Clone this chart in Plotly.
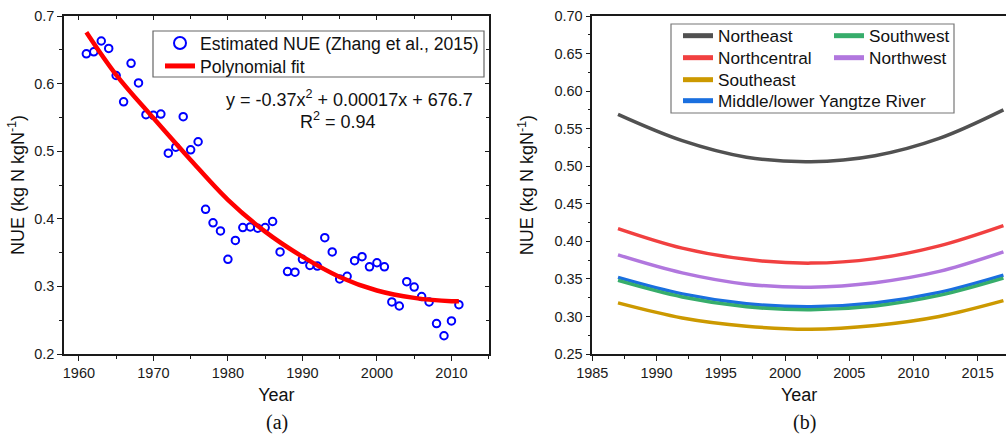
import plotly.graph_objects as go

# ---------------- data: panel (a) ----------------
years_a = list(range(1961, 2012))
nue_est = [0.644, 0.647, 0.663, 0.652, 0.612, 0.573, 0.630, 0.601, 0.554, 0.553,
           0.555, 0.497, 0.506, 0.551, 0.502, 0.514, 0.414, 0.394, 0.382, 0.340,
           0.368, 0.387, 0.388, 0.386, 0.387, 0.396, 0.351, 0.322, 0.321, 0.340,
           0.331, 0.330, 0.372, 0.351, 0.311, 0.315, 0.338, 0.344, 0.329, 0.335,
           0.329, 0.277, 0.271, 0.307, 0.299, 0.285, 0.277, 0.245, 0.227, 0.249,
           0.273]
fit_years = [1961, 1965, 1970, 1975, 1980, 1985, 1990, 1995, 2000, 2005, 2010, 2011]
fit_vals = [0.676, 0.613, 0.549, 0.487, 0.428, 0.381, 0.344, 0.314, 0.294, 0.283, 0.278, 0.278]

# ---------------- data: panel (b) ----------------
years_b = [1987, 1992, 1997, 2002, 2007, 2012, 2017]
regions = ["Northeast", "Northcentral", "Southeast", "Middle/lower Yangtze River",
           "Southwest", "Northwest"]
northeast = [0.569, 0.534, 0.512, 0.506, 0.514, 0.537, 0.575]
northcentral = [0.417, 0.391, 0.376, 0.371, 0.377, 0.394, 0.421]
southeast = [0.318, 0.298, 0.287, 0.283, 0.288, 0.300, 0.321]
yangtze = [0.352, 0.330, 0.317, 0.313, 0.318, 0.332, 0.355]
southwest = [0.348, 0.326, 0.313, 0.309, 0.314, 0.328, 0.351]
northwest = [0.382, 0.358, 0.343, 0.339, 0.345, 0.360, 0.386]
region_values = [northeast, northcentral, southeast, yangtze, southwest, northwest]

# ---------------- styling ----------------
region_colors = ["#515151", "#F14040", "#CC9900", "#1A6FDF", "#37AD6B", "#B177DE"]
region_legends = ["legend3", "legend4", "legend5", "legend6", "legend7", "legend8"]
# legend item placement in page pixels (left x of legend, top y)
region_legend_pos = [(678, 18), (678, 40), (678, 62), (678, 83), (829, 18), (829, 40)]

FONT = "Liberation Sans, Arial, sans-serif"
SERIF = "Liberation Serif, Times New Roman, serif"
W, H = 1006, 436
ML, MR, MT, MB = 64, 0, 16, 82
PW, PH = W - ML - MR, H - MT - MB


def px(x):
    return (x - ML) / PW


def py(y):
    return (H - MB - y) / PH


fig = go.Figure()

fig.add_trace(go.Scatter(
    x=years_a, y=nue_est, mode="markers", name="Estimated NUE (Zhang et al., 2015)",
    marker=dict(symbol="circle-open", size=7.5, color="#0000FF", line=dict(width=2, color="#0000FF")),
    xaxis="x", yaxis="y", legend="legend"))
fig.add_trace(go.Scatter(
    x=fit_years, y=fit_vals, mode="lines", name="Polynomial fit",
    line=dict(color="#FF0000", width=4.5, shape="spline"),
    xaxis="x", yaxis="y", legend="legend2"))
# invisible companion so the mirrored (inside-tick) frame axes of panel (a) are drawn
fig.add_trace(go.Scatter(
    x=years_a, y=nue_est, mode="markers", marker=dict(opacity=0), showlegend=False,
    hoverinfo="skip", xaxis="x3", yaxis="y3"))

for name, vals, col, lg in zip(regions, region_values, region_colors, region_legends):
    fig.add_trace(go.Scatter(
        x=years_b, y=vals, mode="lines", name=name,
        line=dict(color=col, width=3.5, shape="spline"),
        xaxis="x2", yaxis="y2", legend=lg))

axis_common = dict(showgrid=False, zeroline=False, showline=True, linecolor="#1a1a1a",
                   linewidth=1.5, ticks="outside", tickcolor="#1a1a1a", tickwidth=1.2,
                   ticklen=5, tickfont=dict(size=14.5, family=FONT, color="#1a1a1a"),
                   automargin=False)

legend_base = dict(xanchor="left", yanchor="top", bgcolor="rgba(0,0,0,0)", borderwidth=0,
                   tracegroupgap=0, itemsizing="constant")

layout_legends = dict(
    legend=dict(legend_base, x=px(160), y=py(25), font=dict(size=17.6, family=FONT, color="#111111")),
    legend2=dict(legend_base, x=px(160), y=py(48), font=dict(size=17.6, family=FONT, color="#111111")),
)
for lg, (lx, ly) in zip(region_legends, region_legend_pos):
    layout_legends[lg] = dict(legend_base, x=px(lx), y=py(ly),
                              font=dict(size=17.2, family=FONT, color="#111111"))

fig.update_layout(
    width=W, height=H,
    margin=dict(l=ML, r=MR, t=MT, b=MB),
    paper_bgcolor="white", plot_bgcolor="white",
    font=dict(family=FONT, color="#111111"),
    showlegend=True,
    xaxis=dict(axis_common, domain=[0, px(488.7)], range=[1958, 2015], dtick=10, tick0=1960,
               mirror=True, anchor="y",
               minor=dict(ticks="outside", ticklen=3, dtick=5, tick0=1960, tickcolor="#1a1a1a"),
               title=dict(text="Year", font=dict(size=18, family=FONT), standoff=8)),
    yaxis=dict(axis_common, domain=[0, 1], range=[0.2, 0.7], dtick=0.1, tick0=0.2,
               tickformat=".1f", mirror=True, anchor="x",
               minor=dict(ticks="outside", ticklen=3, dtick=0.05, tickcolor="#1a1a1a"),
               title=dict(text="NUE (kg N kgN<sup>-1</sup>)", font=dict(size=18, family=FONT), standoff=5)),
    xaxis3=dict(overlaying="x", anchor="y", side="top", range=[1958, 2015], dtick=10, tick0=1960,
                showgrid=False, zeroline=False, showline=False, showticklabels=False,
                ticks="inside", ticklen=4, tickcolor="#1a1a1a", tickwidth=1.2,
                minor=dict(ticks="inside", ticklen=3, dtick=5, tick0=1960, tickcolor="#1a1a1a")),
    yaxis3=dict(overlaying="y", anchor="x", side="right", range=[0.2, 0.7], dtick=0.1, tick0=0.2,
                showgrid=False, zeroline=False, showline=False, showticklabels=False,
                ticks="inside", ticklen=4, tickcolor="#1a1a1a", tickwidth=1.2,
                minor=dict(ticks="inside", ticklen=3, dtick=0.05, tickcolor="#1a1a1a")),
    xaxis2=dict(axis_common, domain=[px(592.3), 1], range=[1985, 2017.2], dtick=5, tick0=1985,
                mirror=True, anchor="y2",
                minor=dict(ticks="outside", ticklen=3, dtick=2.5, tick0=1985, tickcolor="#1a1a1a"),
                title=dict(text="Year", font=dict(size=18, family=FONT), standoff=8)),
    yaxis2=dict(axis_common, domain=[0, 1], range=[0.25, 0.70], dtick=0.05, tick0=0.25,
                tickformat=".2f", mirror=False, anchor="x2",
                minor=dict(ticks="outside", ticklen=3, dtick=0.025, tickcolor="#1a1a1a"),
                title=dict(text="NUE (kg N kgN<sup>-1</sup>)", font=dict(size=18, family=FONT), standoff=16)),
    **layout_legends,
)

# legend frames
fig.add_shape(type="rect", xref="paper", yref="paper",
              x0=px(153), x1=px(484), y0=py(77), y1=py(31),
              line=dict(color="#666666", width=1.2), fillcolor="rgba(0,0,0,0)", layer="above")
fig.add_shape(type="rect", xref="paper", yref="paper",
              x0=px(671), x1=px(954), y0=py(113), y1=py(24),
              line=dict(color="#777777", width=1.2), fillcolor="rgba(0,0,0,0)", layer="above")

ann_font = dict(size=18, family=FONT, color="#111111")
fig.add_annotation(text="y = -0.37x<sup>2</sup> + 0.00017x + 676.7", xref="paper", yref="paper",
                   x=px(349), y=py(98), xanchor="center", yanchor="middle",
                   showarrow=False, font=ann_font)
fig.add_annotation(text="R<sup>2</sup> = 0.94", xref="paper", yref="paper",
                   x=px(338), y=py(120), xanchor="center", yanchor="middle",
                   showarrow=False, font=ann_font)
fig.add_annotation(text="(a)", xref="paper", yref="paper", x=px(276.5), y=py(422),
                   xanchor="center", yanchor="middle", borderpad=0,
                   showarrow=False, font=dict(size=20, family=SERIF, color="#111111"))
fig.add_annotation(text="(b)", xref="paper", yref="paper", x=px(804.3), y=py(422),
                   xanchor="center", yanchor="middle", borderpad=0,
                   showarrow=False, font=dict(size=20, family=SERIF, color="#111111"))

fig.write_html("out.html", post_script="document.body.style.margin='0';",
               config={"displayModeBar": False})
